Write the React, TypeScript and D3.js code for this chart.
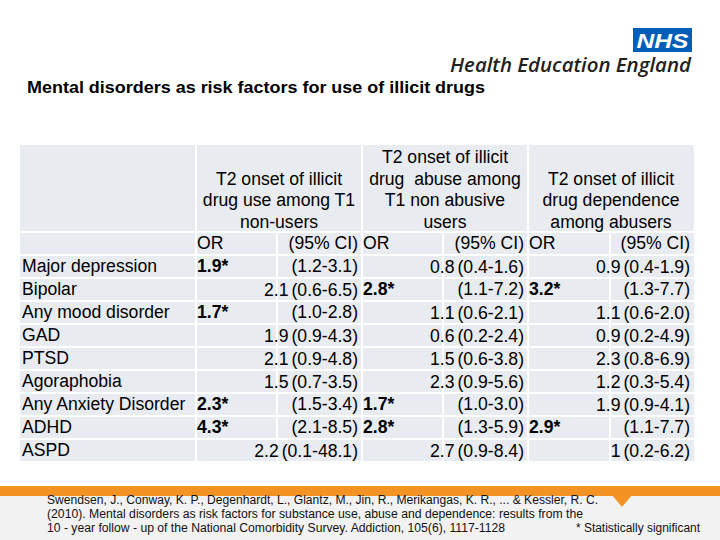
import React from "react";
import * as d3 from "d3";

const disorders = ["Major depression", "Bipolar", "Any mood disorder", "GAD", "PTSD", "Agoraphobia", "Any Anxiety Disorder", "ADHD", "ASPD"];

const groupTitles = [
  ["T2 onset of illicit", "drug use among T1", "non-users"],
  ["T2 onset of illicit", "drug  abuse among", "T1 non abusive", "users"],
  ["T2 onset of illicit", "drug dependence", "among abusers"],
];

const useOR = [1.9, 2.1, 1.7, 1.9, 2.1, 1.5, 2.3, 4.3, 2.2];
const useSig = [true, false, true, false, false, false, true, true, false];
const useLo = [1.2, 0.6, 1.0, 0.9, 0.9, 0.7, 1.5, 2.1, 0.1];
const useHi = [3.1, 6.5, 2.8, 4.3, 4.8, 3.5, 3.4, 8.5, 48.1];

const abuseOR = [0.8, 2.8, 1.1, 0.6, 1.5, 2.3, 1.7, 2.8, 2.7];
const abuseSig = [false, true, false, false, false, false, true, true, false];
const abuseLo = [0.4, 1.1, 0.6, 0.2, 0.6, 0.9, 1.0, 1.3, 0.9];
const abuseHi = [1.6, 7.2, 2.1, 2.4, 3.8, 5.6, 3.0, 5.9, 8.4];

const depOR = [0.9, 3.2, 1.1, 0.9, 2.3, 1.2, 1.9, 2.9, 1];
const depSig = [false, true, false, false, false, false, false, true, false];
const depLo = [0.4, 1.3, 0.6, 0.2, 0.8, 0.3, 0.9, 1.1, 0.2];
const depHi = [1.9, 7.7, 2.0, 4.9, 6.9, 5.4, 4.1, 7.7, 6.2];

const footLines = [
  "Swendsen, J., Conway, K. P., Degenhardt, L., Glantz, M., Jin, R., Merikangas, K. R., ... & Kessler, R. C.",
  "(2010). Mental disorders as risk factors for substance use, abuse and dependence: results from the",
  "10 - year follow - up of the National Comorbidity Survey. Addiction, 105(6), 1117-1128",
];

const groups = [
  { or: useOR, sig: useSig, lo: useLo, hi: useHi },
  { or: abuseOR, sig: abuseSig, lo: abuseLo, hi: abuseHi },
  { or: depOR, sig: depSig, lo: depLo, hi: depHi },
];

const FONT = "'Liberation Sans', Arial, sans-serif";
const CELL = "#e8ebf0";

export default function App() {
  const colEdges = [20, 196, 277, 362, 443, 528, 610, 694];
  const gap = 2;
  const tableTop = 145;
  const headerBottom = 232;
  const orRowBottom = 255;
  const tableBottom = 462;

  const y = d3.scaleBand<number>().domain(d3.range(disorders.length)).range([orRowBottom, tableBottom]);
  const fs = 17.6;
  const ciPad = 4;

  const cellRects: React.ReactNode[] = [];
  const rowsY: [number, number][] = [
    [tableTop, headerBottom],
    [headerBottom, orRowBottom],
    ...disorders.map((_, i) => [y(i)!, y(i)! + y.bandwidth()] as [number, number]),
  ];
  rowsY.forEach(([y0, y1], ri) => {
    if (ri === 0) {
      const spans = [[0, 1], [1, 3], [3, 5], [5, 7]];
      spans.forEach(([a, b], k) =>
        cellRects.push(
          <rect key={`h${k}`} x={colEdges[a] + (a ? gap / 2 : 0)} y={y0} width={colEdges[b] - colEdges[a] - (a ? gap / 2 : 0) - (b < 7 ? gap / 2 : 0)} height={y1 - y0 - gap / 2} fill={CELL} />
        )
      );
    } else {
      for (let c = 0; c < 7; c++) {
        const x0 = colEdges[c] + (c ? gap / 2 : 0);
        const x1 = colEdges[c + 1] - (c < 6 ? gap / 2 : 0);
        cellRects.push(
          <rect key={`c${ri}-${c}`} x={x0} y={y0 + gap / 2} width={x1 - x0} height={y1 - y0 - gap} fill={CELL} />
        );
      }
    }
  });

  const fmtCI = (lo: number, hi: number) => `(${lo.toFixed(1)}-${hi.toFixed(1)})`;

  return (
    <svg width={720} height={540} style={{ position: "absolute", left: 0, top: 0, background: "#fff" }} fontFamily={FONT}>
      {/* logo */}
      <rect x={633} y={28} width={59} height={24} fill="#005EB8" />
      <text x={662.5} y={47.5} textAnchor="middle" fill="#fff" fontSize={21} fontWeight="bold" fontStyle="italic" textLength={52} lengthAdjust="spacingAndGlyphs">NHS</text>
      <text x={450} y={72} fill="#231f20" fontSize={20} fontWeight={600} fontStyle="italic" fontFamily="'Open Sans', 'Liberation Sans', sans-serif" textLength={241} lengthAdjust="spacingAndGlyphs">Health Education England</text>

      {/* title */}
      <text x={27} y={93} fontSize={16} fontWeight="bold" fill="#000" textLength={458} lengthAdjust="spacingAndGlyphs">Mental disorders as risk factors for use of illicit drugs</text>

      {/* table */}
      {cellRects}
      {groupTitles.map((lines, g) => {
        const cx = (colEdges[1 + g * 2] + colEdges[3 + g * 2]) / 2;
        return lines.map((ln, k) => (
          <text key={`gt${g}-${k}`} x={cx} y={headerBottom - 4 - (lines.length - 1 - k) * 21.7} textAnchor="middle" fontSize={fs} fill="#000" style={{ whiteSpace: "pre" }}>{ln}</text>
        ));
      })}
      {groups.map((_, g) => (
        <g key={`orh${g}`}>
          <text x={colEdges[1 + g * 2] + 1} y={(headerBottom + orRowBottom) / 2 + 1} dominantBaseline="middle" fontSize={fs}>OR</text>
          <text x={colEdges[3 + g * 2] - ciPad} y={(headerBottom + orRowBottom) / 2 + 1} dominantBaseline="middle" textAnchor="end" fontSize={fs}>(95% CI)</text>
        </g>
      ))}
      {disorders.map((d, i) => {
        const cy = y(i)! + y.bandwidth() / 2 + 1;
        return (
          <g key={d}>
            <text x={22} y={cy} dominantBaseline="middle" fontSize={fs}>{d}</text>
            {groups.map((gr, g) => {
              const orL = colEdges[1 + g * 2];
              const ciR = colEdges[3 + g * 2];
              const ciText = fmtCI(gr.lo[i], gr.hi[i]);
              return gr.sig[i] ? (
                <g key={g}>
                  <text x={orL + 1} y={cy} dominantBaseline="middle" fontSize={fs} fontWeight="bold">{`${gr.or[i]}*`}</text>
                  <text x={ciR - ciPad} y={cy} dominantBaseline="middle" textAnchor="end" fontSize={fs}>{ciText}</text>
                </g>
              ) : (
                <text key={g} x={ciR - ciPad} y={cy} dominantBaseline="middle" textAnchor="end" fontSize={fs}>
                  <tspan>{`${gr.or[i]}`}</tspan>
                  <tspan dx={3}>{ciText}</tspan>
                </text>
              );
            })}
          </g>
        );
      })}

      {/* bottom band */}
      <rect x={0} y={495} width={720} height={45} fill="#f2f2f2" />
      <rect x={0} y={486} width={720} height={10} fill="#f39323" />
      <path d="M612,495 L622,507 L632,495 Z" fill="#f39323" />
      {footLines.map((ln, k) => (
        <text key={k} x={47} y={503.5 + k * 14} fontSize={12} fill="#111" fontFamily="'Liberation Sans Narrow', 'Liberation Sans', sans-serif" textLength={[551, 536, 458][k]} lengthAdjust="spacingAndGlyphs">{ln}</text>
      ))}
      <text x={700} y={531.5} textAnchor="end" fontSize={12} fill="#111" fontFamily="'Liberation Sans Narrow', 'Liberation Sans', sans-serif" textLength={124} lengthAdjust="spacingAndGlyphs">* Statistically significant</text>
    </svg>
  );
}
